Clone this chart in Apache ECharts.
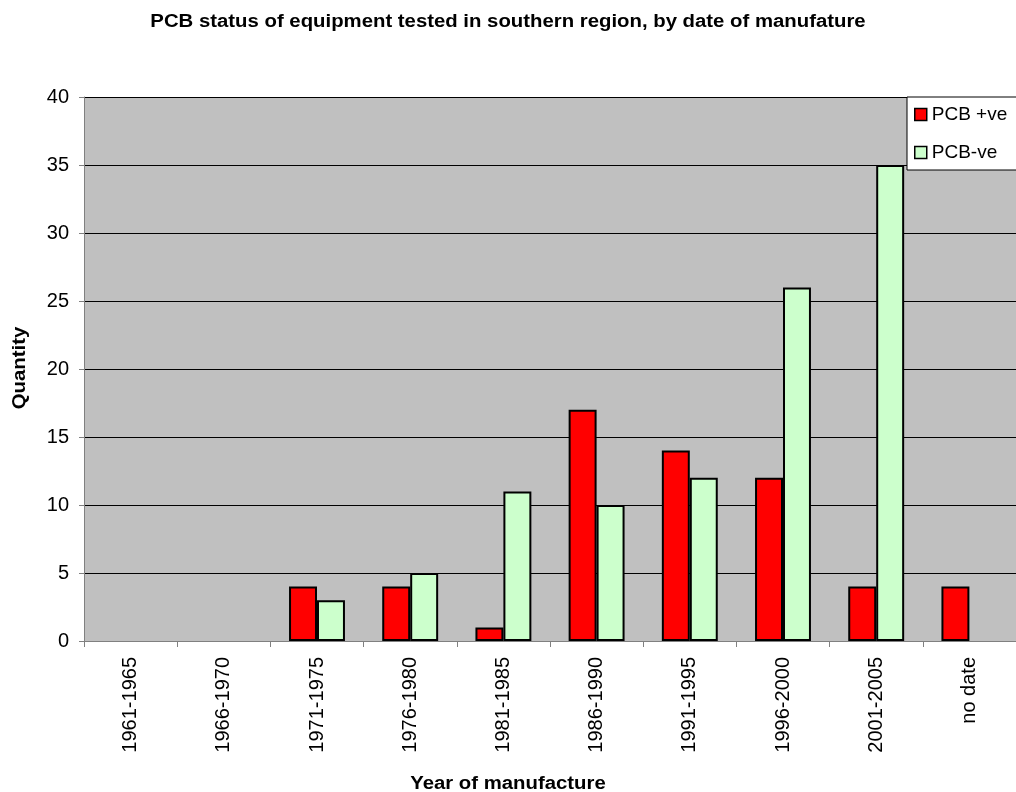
<!DOCTYPE html>
<html>
<head>
<meta charset="utf-8">
<script src="https://cdn.jsdelivr.net/npm/echarts@6/dist/echarts.min.js"></script>
<style>
  html, body { margin: 0; padding: 0; background: #fff; }
  #chart { width: 1016px; height: 792px; }
</style>
</head>
<body>
<div id="chart"></div>
<script>
// categories and values
const categories = ['1961-1965', '1966-1970', '1971-1975', '1976-1980', '1981-1985',
  '1986-1990', '1991-1995', '1996-2000', '2001-2005', 'no date']
const pcbPositive = [0, 0, 4, 4, 1, 17, 14, 12, 4, 4]
const pcbNegative = [0, 0, 3, 5, 11, 10, 12, 26, 35, 0]
const yTicks = [0, 5, 10, 15, 20, 25, 30, 35, 40]

const chart = echarts.init(document.getElementById('chart'))

// empty cells draw nothing, as in the original
const blank = arr => arr.map(v => (v === 0 ? '-' : v))

const boldText = { fontSize: 18, fontWeight: 'bold', fill: '#000', fontFamily: 'Liberation Sans, Arial, sans-serif' }

chart.setOption({
  animation: false,
  textStyle: { fontFamily: 'Liberation Sans, Arial, sans-serif' },
  graphic: [
    { // chart title (slightly wide lettering, like the original)
      type: 'text', x: 508, y: 22, scaleX: 1.13,
      style: Object.assign({ text: 'PCB status of equipment tested in southern region, by date of manufature', align: 'center', verticalAlign: 'middle' }, boldText)
    },
    { // x axis title
      type: 'text', x: 508, y: 784, scaleX: 1.13,
      style: Object.assign({ text: 'Year of manufacture', align: 'center', verticalAlign: 'middle' }, boldText)
    },
    { // y axis title
      type: 'text', x: 20, y: 368, rotation: Math.PI / 2, scaleX: 1.13,
      style: Object.assign({ text: 'Quantity', align: 'center', verticalAlign: 'middle' }, boldText)
    }
  ],
  legend: {
    orient: 'vertical',
    left: 907, top: 97,
    padding: [8, 40, 8, 7],
    itemGap: 19,
    icon: 'rect',
    itemWidth: 12, itemHeight: 12,
    backgroundColor: '#fff',
    borderColor: '#000', borderWidth: 1,
    textStyle: { fontSize: 19, color: '#000' },
    itemStyle: { borderColor: '#000', borderWidth: 1.5 }
  },
  grid: { left: 84, top: 97, width: 940, height: 544, containLabel: false },
  xAxis: {
    type: 'category',
    data: categories,
    axisLine: { lineStyle: { color: '#808080', width: 1 } },
    axisTick: { show: true, length: 6, lineStyle: { color: '#808080' } },
    axisLabel: { rotate: 90, fontSize: 20, color: '#000', margin: 16 }
  },
  yAxis: {
    type: 'value',
    min: yTicks[0], max: yTicks[yTicks.length - 1], interval: 5,
    axisLine: { show: true, lineStyle: { color: '#808080', width: 1 } },
    axisTick: { show: true, length: 5, lineStyle: { color: '#808080' } },
    axisLabel: { fontSize: 20, color: '#000', margin: 15 },
    splitLine: { show: true, lineStyle: { color: '#000', width: 1 } },
    splitArea: { show: true, areaStyle: { color: ['#C0C0C0', '#C0C0C0'] } }
  },
  series: [
    {
      name: 'PCB +ve', type: 'bar',
      data: blank(pcbPositive),
      barGap: '0%', barCategoryGap: '40%',
      itemStyle: { color: '#FF0000', borderColor: '#000', borderWidth: 2 }
    },
    {
      name: 'PCB-ve', type: 'bar',
      data: blank(pcbNegative),
      barGap: '0%', barCategoryGap: '40%',
      itemStyle: { color: '#CCFFCC', borderColor: '#000', borderWidth: 2 }
    }
  ]
})
</script>
</body>
</html>
